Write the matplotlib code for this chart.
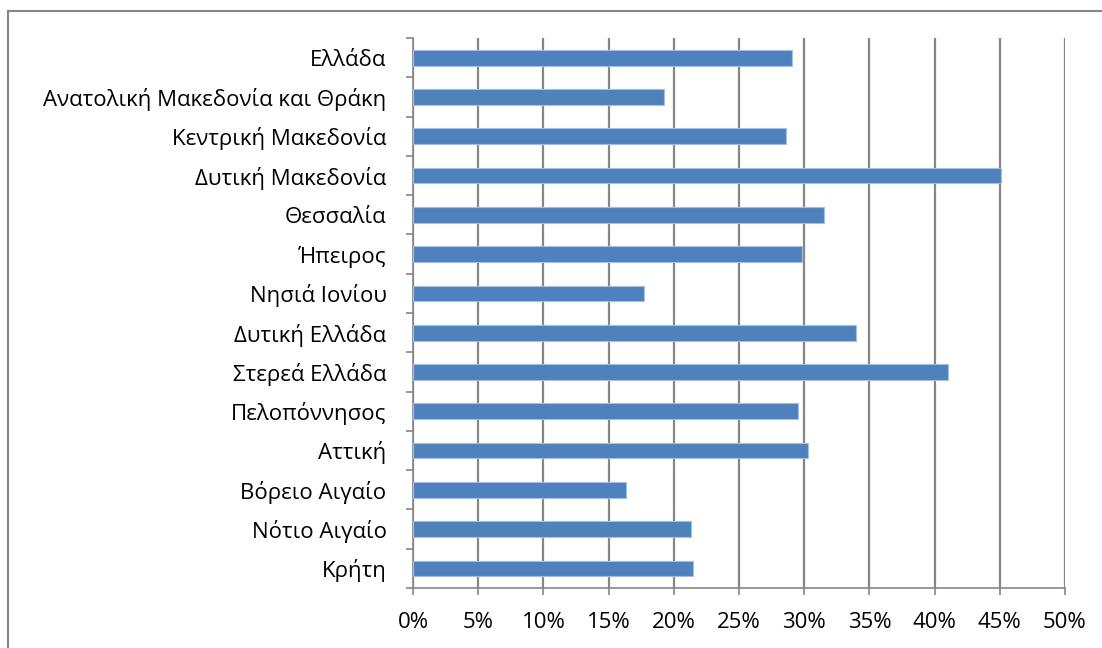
import numpy as np
import matplotlib
matplotlib.use("Agg")
import matplotlib.pyplot as plt
from matplotlib.lines import Line2D

plt.rcParams['font.family'] = ['Open Sans', 'DejaVu Sans']

# regions, top to bottom as in the chart
regions = [
    "Ελλάδα",
    "Ανατολική Μακεδονία και Θράκη",
    "Κεντρική Μακεδονία",
    "Δυτική Μακεδονία",
    "Θεσσαλία",
    "Ήπειρος",
    "Νησιά Ιονίου",
    "Δυτική Ελλάδα",
    "Στερεά Ελλάδα",
    "Πελοπόννησος",
    "Αττική",
    "Βόρειο Αιγαίο",
    "Νότιο Αιγαίο",
    "Κρήτη",
]
values = [0.291, 0.1925, 0.286, 0.4507, 0.315, 0.298, 0.177, 0.340, 0.4105,
          0.295, 0.303, 0.1635, 0.2135, 0.215]
x_ticks = [0, 0.05, 0.10, 0.15, 0.20, 0.25, 0.30, 0.35, 0.40, 0.45, 0.50]
x_labels = ["0%", "5%", "10%", "15%", "20%", "25%", "30%", "35%", "40%", "45%", "50%"]

grey = "#868686"
bar_col = "#4F81BD"

fig = plt.figure(figsize=(11.02, 6.48), dpi=100)
W, H = 1102, 648
ax = fig.add_axes([413 / W, 1 - 588 / H, (1065 - 413) / W, (588 - 38) / H])

n = len(regions)
ypos = np.arange(n)[::-1]
ax.barh(ypos, values, height=0.4, color=bar_col, edgecolor="#A7BFDE",
        linewidth=0.8, zorder=3)

ax.set_xlim(0, 0.5)
ax.set_ylim(-0.5, n - 0.5)

ax.set_xticks(x_ticks)
ax.set_xticklabels(x_labels, fontsize=16)
ax.set_yticks(ypos)
ax.set_yticklabels(regions, fontsize=16)
ax.set_yticks(np.arange(n + 1) - 0.5, minor=True)

ax.grid(axis="x", color=grey, linewidth=1.6, zorder=0)
ax.tick_params(axis="x", direction="out", length=5, width=1.2, color=grey, pad=12)
ax.tick_params(axis="y", which="major", length=0, pad=19)
ax.tick_params(axis="y", which="minor", direction="out", length=5, width=1.2, color=grey)

for s in ["top", "right"]:
    ax.spines[s].set_visible(False)
for s in ["left", "bottom"]:
    ax.spines[s].set_color(grey)
    ax.spines[s].set_linewidth(1.2)

# outer chart frame
fig.add_artist(Line2D([7.5 / W, 7.5 / W], [0, 1 - 10.5 / H], color=grey, linewidth=1.5))
fig.add_artist(Line2D([7.5 / W, 1], [1 - 10.5 / H, 1 - 10.5 / H], color=grey, linewidth=1.5))

fig.savefig("out.png", dpi=100)
